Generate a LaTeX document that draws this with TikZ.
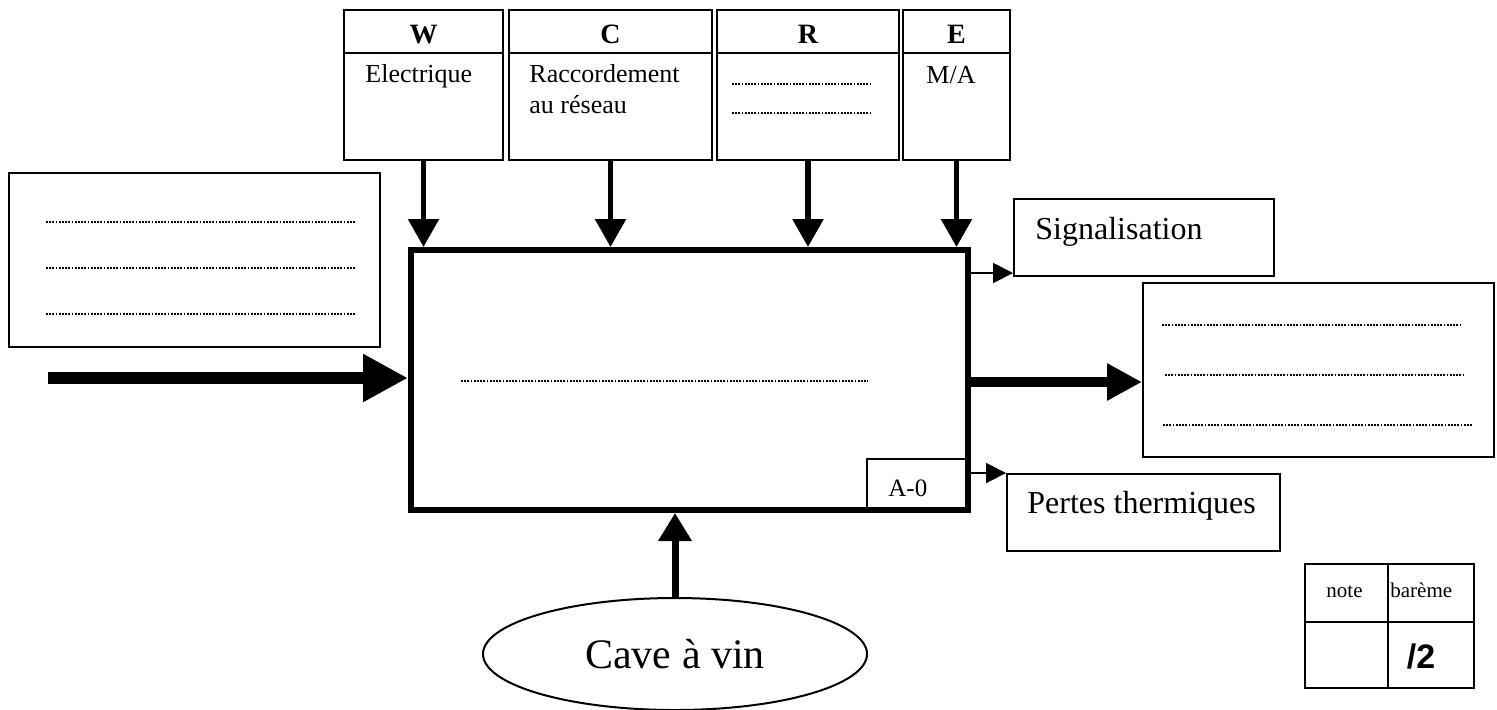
\documentclass[tikz,border=0pt]{standalone}
\usepackage{fontspec}
\setmainfont{Liberation Serif}
\newfontfamily\arialfont{Liberation Sans}
\usetikzlibrary{arrows.meta,fit,shapes.geometric}

\begin{document}
\begin{tikzpicture}[x=0.5pt,y=-0.5pt,
  box/.style={draw,line width=1pt,inner sep=0pt},
  mainbox/.style={draw,line width=3pt,inner sep=0pt},
  dotline/.style={line width=0.7pt,dash pattern=on 0.9pt off 0.7pt},
  hdr/.style={font=\fontsize{14}{16}\selectfont\bfseries,inner sep=0pt,anchor=base},
  lbl/.style={font=\fontsize{13}{15}\selectfont,inner sep=0pt,anchor=base west},
  big/.style={font=\fontsize{16}{18}\selectfont,inner sep=0pt,anchor=base west},
  small/.style={font=\fontsize{10.5}{12}\selectfont,inner sep=0pt,anchor=base west},
  ctrl/.style={line width=2.75pt,-{Triangle[length=14pt,width=15pt]}},
  flowin/.style={line width=6pt,-{Triangle[length=22.5pt,width=22.5pt]}},
  flowout/.style={line width=5pt,-{Triangle[length=17.5pt,width=17.5pt]}},
  smallarrow/.style={line width=1pt,-{Triangle[length=10pt,width=10pt]}},
  mecha/.style={line width=3.5pt,-{Triangle[length=14pt,width=16pt]}}]
\useasboundingbox (0,0) rectangle (1497,709);

% control boxes along the top
\coordinate (hline) at (0,53);
\node[box,fit={(344,10) (503,160)}] (wbox) {};
\node[box,fit={(509,10) (712,160)}] (cbox) {};
\node[box,fit={(717,10) (899,160)}] (rbox) {};
\node[box,fit={(903,10) (1010,160)}] (ebox) {};
\foreach \b in {wbox,cbox,rbox,ebox}
  \draw[line width=1pt] (\b.west |- hline) -- (\b.east |- hline);
\node[hdr] (wl) at (423.5,43) {W};
\node[hdr] (cl) at (610.5,43) {C};
\node[hdr] (rl) at (808,43) {R};
\node[hdr] (el) at (956.5,43) {E};
\node[lbl] (wt) at (365,82) {Electrique};
\node[lbl] (ct1) at (529,82) {Raccordement};
\node[lbl] (ct2) at (529,113) {au réseau};
\node[lbl] (et) at (926,83) {M/A};
\draw[dotline] (732,84) -- (870,84);
\draw[dotline] (732,113) -- (870,113);

% input box on the left
\node[box,fit={(9,173) (380,347)}] (inbox) {};
\draw[dotline] (46,222) -- (356,222);
\draw[dotline] (46,268) -- (356,268);
\draw[dotline] (46,314) -- (356,314);

% A-0 tag and main activity box
\node[box,fit={(867,459) (968,510)}] (tag) {};
\node[lbl,font=\fontsize{12.5}{14}\selectfont] (tagt) at (888,496) {A-0};
\node[mainbox,fit={(411,250) (968,510)}] (main) {};
\draw[dotline] (461,381) -- (868,381);

% outputs on the right
\node[box,fit={(1014,199) (1274,276)}] (sig) {};
\node[big] (sigt) at (1035,239) {Signalisation};
\node[box,fit={(1143,283) (1494,457)}] (outbox) {};
\draw[dotline] (1162,325) -- (1462,325);
\draw[dotline] (1165,375) -- (1464,375);
\draw[dotline] (1163,425) -- (1472,425);
\node[box,fit={(1007,474) (1280,551)}] (pertes) {};
\node[big] (pertest) at (1027,513) {Pertes thermiques};

% support
\node[draw,line width=1pt,ellipse,minimum width=192pt,minimum height=56pt,inner sep=0pt,
      font=\fontsize{21}{24}\selectfont] (cave) at (675,654) {Cave à vin};

% marking table
\node[box,fit={(1305,564) (1388,622)}] (c11) {};
\node[box,fit={(1388,564) (1474,622)}] (c12) {};
\node[box,fit={(1305,622) (1388,688)}] (c21) {};
\node[box,fit={(1388,622) (1474,688)}] (c22) {};
\node[small] (notet) at (1326,597) {note};
\node[small] (baremet) at (1390,597) {barème};
\node[inner sep=0pt,anchor=base,font=\fontsize{17}{19}\selectfont\arialfont\bfseries] (pts) at (1421,668) {/2};

% connectors
\draw[ctrl] (wbox.south) -- (wbox.south |- main.north);
\draw[ctrl] (cbox.south) -- (cbox.south |- main.north);
\draw[ctrl] (rbox.south) -- (rbox.south |- main.north);
\draw[ctrl] (ebox.south) -- (ebox.south |- main.north);

\coordinate (instart) at (48,378);
\draw[flowin] (instart) -- (instart -| main.west);

\coordinate (outy) at (0,382);
\draw[flowout] (main.east |- outy) -- (outbox.west |- outy);

\coordinate (sigy) at (0,273);
\draw[smallarrow] (main.east |- sigy) -- (sig.west |- sigy);
\draw[smallarrow] (main.east |- pertes.north west) -- (pertes.north west);

\draw[mecha] (cave.north) -- (cave.north |- main.south);
\end{tikzpicture}
\end{document}
